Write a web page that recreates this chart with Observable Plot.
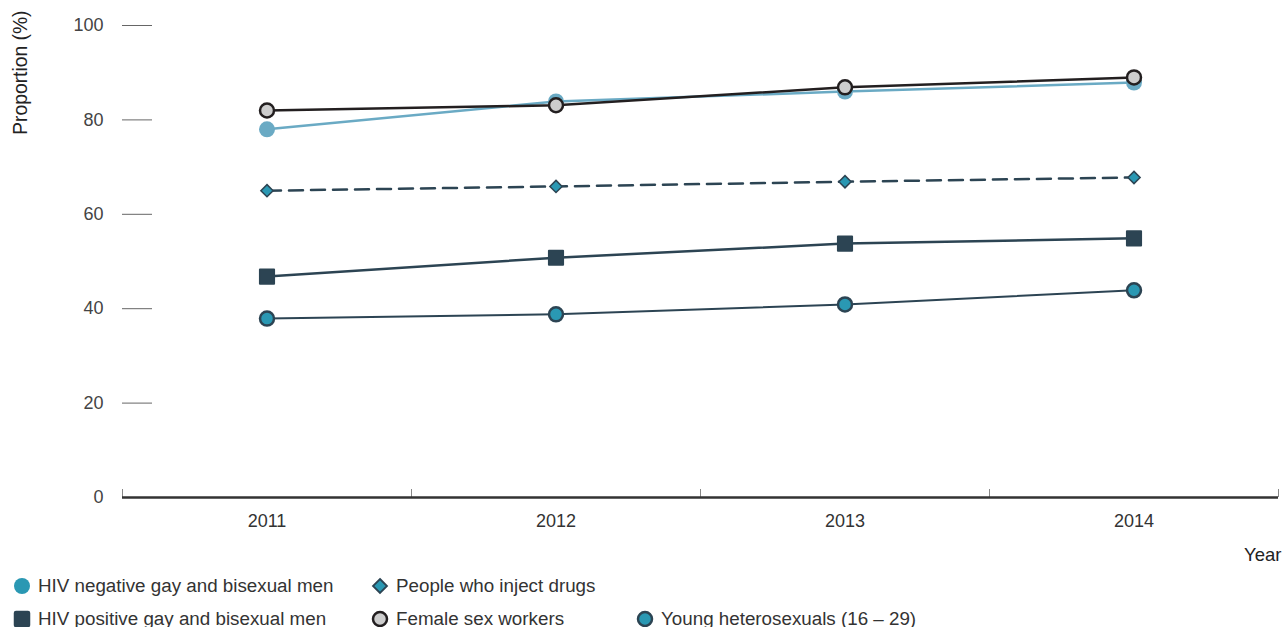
<!DOCTYPE html>
<html>
<head>
<meta charset="utf-8">
<script src="https://cdn.jsdelivr.net/npm/d3@7"></script>
<script src="https://cdn.jsdelivr.net/npm/@observablehq/plot@0.6"></script>
<style>
  html, body { margin: 0; padding: 0; background: #fff; }
  body { font-family: "Liberation Sans", Arial, sans-serif; width: 1284px; height: 627px; overflow: hidden; }
  #legend { position: relative; height: 57px; font-size: 18.8px; color: #333; }
  .item { position: absolute; display: flex; align-items: center; white-space: nowrap; }
  .item svg { margin-right: 7px; }
</style>
</head>
<body>
<div id="chart"></div>
<div id="legend"></div>
<script>
// ---- data ----
const years = [2011, 2012, 2013, 2014];
const hivNeg = [78.0, 83.9, 86.0, 87.9];
const fsw = [82.0, 83.1, 86.9, 89.0];
const pwid = [65.0, 65.9, 66.9, 67.8];
const hivPos = [46.8, 50.8, 53.8, 54.9];
const youngHet = [37.9, 38.8, 40.9, 43.9];
const yTicks = [0, 20, 40, 60, 80, 100];
const seriesNames = [
  "HIV negative gay and bisexual men",
  "People who inject drugs",
  "HIV positive gay and bisexual men",
  "Female sex workers",
  "Young heterosexuals (16 \u2013 29)"
];

const dark = "#2c4453";
const teal = "#2a98b3";
const light = "#6aaac4";
const black = "#231f20";
const grey = "#cdcdcd";

const rows = (vals) => years.map((y, i) => ({year: y, value: vals[i]}));
const dHivNeg = rows(hivNeg), dFsw = rows(fsw), dPwid = rows(pwid), dHivPos = rows(hivPos), dYoung = rows(youngHet);
const seps = d3.range(years.length + 1).map(i => years[0] - 0.5 + i);

const W = 1284, H = 570;
const chart = Plot.plot({
  width: W, height: H,
  marginLeft: 122, marginRight: 6, marginTop: 25, marginBottom: 73,
  style: {fontFamily: '"Liberation Sans", Arial, sans-serif', fontSize: "18px", color: "#333", background: "#fff"},
  x: {domain: [years[0] - 0.5, years[years.length - 1] + 0.5]},
  y: {domain: [0, 100]},
  marks: [
    Plot.axisX(years, {tickSize: 0, tickPadding: 17, tickFormat: d => String(d), label: null, fontSize: 18, fill: "#333"}),
    Plot.axisY(yTicks, {tickSize: 0, tickPadding: 19, label: null, fontSize: 18, fill: "#444"}),
    Plot.ruleY(yTicks.filter(t => t > 0), {x1: seps[0], x2: seps[0], insetRight: -30, stroke: "#666", strokeWidth: 1}),
    Plot.ruleX(seps, {y1: 0, y2: 0, insetBottom: 8, stroke: "#888", strokeWidth: 1}),
    Plot.ruleY([0], {stroke: "#333", strokeWidth: 2.5}),
    Plot.text(["Proportion (%)"], {frameAnchor: "top-left", rotate: -90, textAnchor: "end", lineAnchor: "middle", dx: -102, dy: -15, fontSize: 19.3, fill: "#222"}),
    Plot.text(["Year"], {frameAnchor: "bottom-right", textAnchor: "end", lineAnchor: "middle", dx: 3, dy: 58, fontSize: 18.5, fill: "#222"}),
    // lines
    Plot.line(dHivNeg, {x: "year", y: "value", stroke: light, strokeWidth: 2.5}),
    Plot.line(dFsw, {x: "year", y: "value", stroke: black, strokeWidth: 2.5}),
    Plot.line(dPwid, {x: "year", y: "value", stroke: dark, strokeWidth: 2.5, strokeDasharray: "14,8"}),
    Plot.line(dHivPos, {x: "year", y: "value", stroke: dark, strokeWidth: 2.5}),
    Plot.line(dYoung, {x: "year", y: "value", stroke: dark, strokeWidth: 2}),
    // markers
    Plot.dot(dHivNeg, {x: "year", y: "value", r: 8, fill: light, stroke: "none"}),
    Plot.dot(dFsw, {x: "year", y: "value", r: 7, fill: grey, stroke: black, strokeWidth: 2.5}),
    Plot.dot(dPwid, {x: "year", y: "value", symbol: "diamond2", r: 5.5, fill: teal, stroke: dark, strokeWidth: 1.5}),
    Plot.dot(dHivPos, {x: "year", y: "value", symbol: "square2", r: 9, fill: dark, stroke: dark, strokeWidth: 2, strokeLinejoin: "round"}),
    Plot.dot(dYoung, {x: "year", y: "value", r: 7, fill: teal, stroke: dark, strokeWidth: 2.5})
  ]
});
document.getElementById("chart").appendChild(chart);

// ---- legend ----
const markers = [
  `<svg width="18" height="18"><circle cx="9" cy="9" r="8" fill="${teal}"/></svg>`,
  `<svg width="18" height="18"><path d="M9 2 L16 9 L9 16 L2 9 Z" fill="${teal}" stroke="${dark}" stroke-width="1.8"/></svg>`,
  `<svg width="18" height="18"><rect x="1.5" y="1.5" width="15" height="15" rx="1.5" fill="${dark}" stroke="${dark}" stroke-width="1.5"/></svg>`,
  `<svg width="18" height="18"><circle cx="9" cy="9" r="7" fill="${grey}" stroke="${black}" stroke-width="2.5"/></svg>`,
  `<svg width="18" height="18"><circle cx="9" cy="9" r="7" fill="${teal}" stroke="${dark}" stroke-width="2.5"/></svg>`
];
const pos = [
  {left: 13, top: 16}, {left: 371, top: 16},
  {left: 13, top: 49}, {left: 371, top: 49}, {left: 636, top: 49}
];
const legend = document.getElementById("legend");
seriesNames.forEach((name, i) => {
  const div = document.createElement("div");
  div.className = "item";
  div.style.left = pos[i].left + "px";
  div.style.top = (pos[i].top - 11) + "px";
  div.innerHTML = markers[i] + `<span>${name}</span>`;
  legend.appendChild(div);
});
</script>
</body>
</html>
